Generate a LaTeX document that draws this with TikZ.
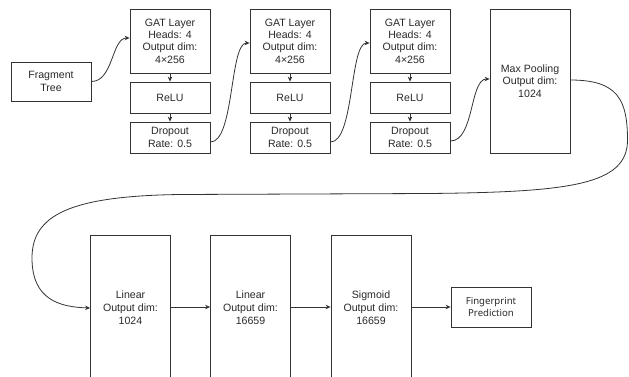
\documentclass[tikz,border=0pt]{standalone}
\usepackage{fontspec}
\setmainfont{Liberation Sans}
\newfontfamily\fpfont{Noto Sans}
\usetikzlibrary{arrows.meta}
\definecolor{ln}{HTML}{333333}
\definecolor{tx}{HTML}{2a2a2a}
\begin{document}
\begin{tikzpicture}[x=1pt,y=-1pt,
  box/.style={draw=ln,line width=0.8pt,fill=white,inner sep=0pt,align=center,
    minimum width=80pt,text=tx,font=\fontsize{10.6}{12.3}\selectfont},
  conn/.style={draw=ln,line width=0.8pt,-{Stealth[length=5pt,width=4.5pt]}}]
\useasboundingbox (0,0) rectangle (629,377);
\clip (0,0) rectangle (629,377);
% top row
\node[box,minimum height=39pt] (frag) at (51,81.5) {Fragment\\Tree};
\foreach \i/\x in {1/170,2/290,3/410}{
  \node[box,minimum height=64pt] (gat\i) at (\x,41) {GAT Layer\\Heads: 4\\Output dim:\\4×256};
  \node[box,minimum height=31pt] (relu\i) at (\x,97.5) {ReLU};
  \node[box,minimum height=31pt] (drop\i) at (\x,137.5) {Dropout\\Rate: 0.5};
  \draw[conn] (gat\i) -- (relu\i);
  \draw[conn] (relu\i) -- (drop\i);
}
\node[box,minimum height=144pt] (mp) at (530,81) {Max Pooling\\Output dim:\\1024};
% bottom row
\node[box,minimum height=146pt,font=\fontsize{10.6}{13}\selectfont] (lin1) at (130.5,308) {Linear\\Output dim:\\1024};
\node[box,minimum height=146pt,font=\fontsize{10.6}{13}\selectfont] (lin2) at (250.5,308) {Linear\\Output dim:\\16659};
\node[box,minimum height=146pt,font=\fontsize{10.6}{13}\selectfont] (sig) at (371,308) {Sigmoid\\Output dim:\\16659};
\node[box,minimum height=40pt,font=\fpfont\fontsize{9.6}{11.7}\selectfont] (fp) at (491,307) {Fingerprint\\Prediction};
% curved connectors
\draw[conn] (frag.east) .. controls +(22,0) and +(-18,0) .. ([yshift=3pt]gat1.west);
\draw[conn] ([yshift=-4.5pt]drop1.east) .. controls +(24,0) and +(-20,0) .. ([yshift=-2pt]gat2.west);
\draw[conn] ([yshift=-4.5pt]drop2.east) .. controls +(24,0) and +(-20,0) .. ([yshift=-2pt]gat3.west);
\draw[conn] ([yshift=-3.5pt]drop3.east) .. controls +(24,0) and +(-20,0) .. ([yshift=2pt]mp.west);
\coordinate (r1) at (627.5,140);
\coordinate (b1) at (430,193.5);
\coordinate (b2) at (180,194.5);
\coordinate (l1) at (32,258);
\draw[conn] ([yshift=1pt]mp.east) .. controls (618,80) and (627.5,100) .. (r1)
  .. controls (627.5,185) and (570,192) .. (b1)
  -- (b2)
  .. controls (70,196) and (32,215) .. (l1)
  .. controls (32,300) and (60,307) .. (lin1.west);
% straight bottom arrows
\draw[conn] (lin1.east |- 0,307) -- (lin2.west |- 0,307);
\draw[conn] (lin2.east |- 0,307) -- (sig.west |- 0,307);
\draw[conn] (sig.east |- 0,307) -- (fp.west);
\end{tikzpicture}
\end{document}
